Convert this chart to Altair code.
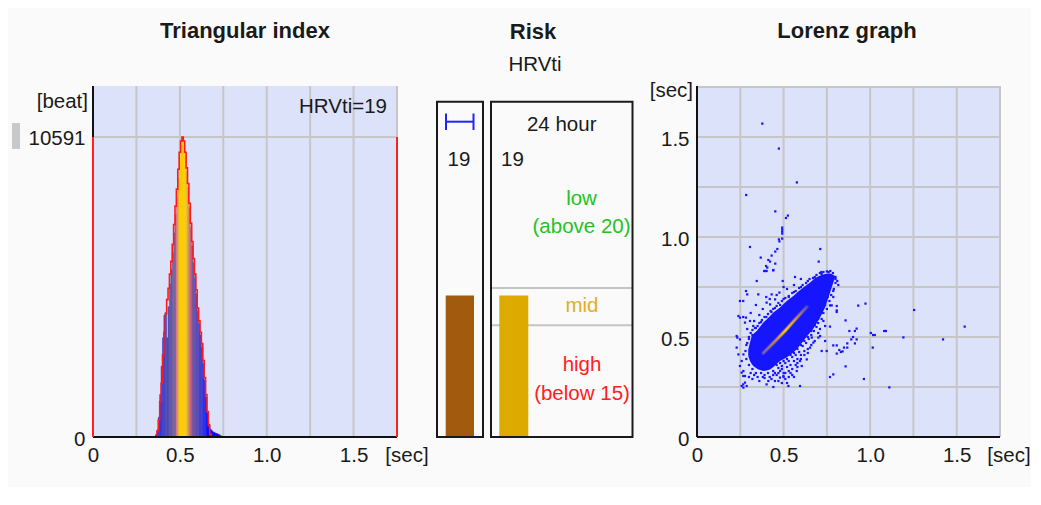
import altair as alt
import pandas as pd

FONT = "Liberation Sans, Arial, sans-serif"
TXT = "#1a1a1a"
LAV = "#dde2fb"
GRID = "#c6c6c6"
BLUE = "#1515ff"
FS = 20.5      # body text
FT = 22        # titles

# ---------------- data ----------------
HRVTI = 19            # triangular index (current period and 24 hour)
RISK_CURRENT = 19
RISK_24H = 19
THRESH_LOW = 20       # low risk above
THRESH_HIGH = 15      # high risk below

# histogram of RR intervals (bin starts every 8 ms)
HIST_BIN = 0.008
HIST_START = 0.360
HIST_COUNTS = [80, 250, 700, 1500, 2500, 3500, 4300, 4400, 3500, 4600, 5400, 5900,
               6500, 7200, 7850, 8450, 9150, 9800, 10300, 10591, 10350, 9900, 9350, 8800,
               8100, 7400, 6750, 6150, 5600, 5050, 4450, 4000, 3600, 3150, 2600, 2000,
               1400, 850, 450, 280, 220, 180, 150, 130, 110, 90, 60, 30]
# red outline histogram
RED_START = 0.368
RED_COUNTS = [200, 600, 1250, 1900, 2900, 3700, 4350, 4850, 5250, 5750, 6200, 6800,
              7500, 8150, 8750, 9450, 10050, 10450, 10591, 10450, 10050, 9500, 8950, 8250,
              7550, 6900, 6300, 5750, 5200, 4550, 4100, 3700, 3300, 2700, 2100, 1500,
              900, 400, 100]

TICKS = [0, 0.5, 1.0, 1.5]
GRID_STEPS = [0.25, 0.5, 0.75, 1.0, 1.25, 1.5, 1.75]

# Lorenz (Poincare) plot: dense core band (x, lower y, upper y)
CORE_X = [0.296, 0.306, 0.316, 0.325, 0.345, 0.354, 0.374, 0.383, 0.402, 0.422, 0.441,
          0.479, 0.518, 0.556, 0.566, 0.585, 0.614, 0.653, 0.663, 0.682, 0.711, 0.740,
          0.759, 0.768, 0.778, 0.797]
CORE_LO = [0.405, 0.380, 0.365, 0.355, 0.342, 0.338, 0.332, 0.330, 0.332, 0.338, 0.350,
           0.380, 0.397, 0.422, 0.430, 0.447, 0.480, 0.522, 0.530, 0.555, 0.597, 0.647,
           0.697, 0.720, 0.747, 0.797]
CORE_HI = [0.438, 0.472, 0.505, 0.515, 0.530, 0.540, 0.563, 0.572, 0.588, 0.605, 0.622,
           0.647, 0.680, 0.705, 0.713, 0.728, 0.747, 0.772, 0.780, 0.795, 0.808, 0.815,
           0.818, 0.818, 0.815, 0.805]
# dense centre streak
STREAK = [(0.383, 0.420), (0.450, 0.478), (0.508, 0.530), (0.570, 0.590), (0.634, 0.650)]
# individual beats
LORENZ_POINTS = [
    (0.377, 1.567), (0.473, 1.442), (0.577, 1.273), (0.284, 1.210), (0.452, 1.128), (0.514, 1.095),
    (0.525, 1.107), (0.492, 1.047), (0.492, 1.037), (0.492, 1.027), (0.492, 1.017), (0.473, 0.988),
    (0.476, 0.978), (0.492, 0.992), (0.306, 0.950), (0.712, 0.940), (0.703, 0.877), (0.368, 0.897),
    (0.431, 0.907), (0.452, 0.927), (0.464, 0.940), (0.452, 0.867), (0.412, 0.885), (0.422, 0.877),
    (0.399, 0.855), (0.406, 0.847), (0.441, 0.835), (0.388, 0.830), (0.395, 0.830), (0.402, 0.830),
    (0.440, 0.833), (0.345, 0.780), (0.495, 0.780), (0.566, 0.800), (0.718, 0.825), (0.816, 0.760),
    (0.787, 0.730), (0.787, 0.700), (0.807, 0.655), (0.807, 0.633), (0.807, 0.625), (0.768, 0.658),
    (0.778, 0.658), (0.931, 0.657), (0.973, 0.667), (1.254, 0.635), (1.546, 0.552), (0.858, 0.583),
    (0.768, 0.552), (0.880, 0.530), (0.912, 0.530), (0.922, 0.542), (1.004, 0.520), (1.017, 0.510),
    (1.027, 0.510), (1.081, 0.530), (1.091, 0.530), (1.192, 0.498), (1.421, 0.488), (0.891, 0.488),
    (0.901, 0.500), (0.922, 0.488), (0.912, 0.468), (0.868, 0.468), (0.849, 0.447), (0.868, 0.447),
    (0.787, 0.458), (0.807, 0.458), (0.822, 0.435), (0.831, 0.425), (0.841, 0.428), (0.807, 0.417),
    (1.015, 0.447), (0.858, 0.353), (0.768, 0.300), (0.964, 0.290), (1.111, 0.248), (0.787, 0.313),
    (0.283, 0.730), (0.290, 0.713), (0.248, 0.680), (0.267, 0.680), (0.239, 0.605), (0.248, 0.597),
    (0.267, 0.600), (0.283, 0.597), (0.229, 0.505), (0.233, 0.497), (0.229, 0.447), (0.239, 0.413),
    (0.248, 0.355), (0.258, 0.322), (0.267, 0.305), (0.258, 0.255), (0.267, 0.263), (0.277, 0.272),
    (0.402, 0.263), (0.441, 0.250), (0.528, 0.255), (0.595, 0.255), (0.354, 0.713), (0.402, 0.672),
    (0.422, 0.663), (0.431, 0.713), (0.476, 0.722), (0.451, 0.688), (0.306, 0.580), (0.325, 0.555),
    (0.277, 0.572), (0.248, 0.488), (0.268, 0.413), (0.258, 0.380), (0.268, 0.330), (0.277, 0.305),
    (0.287, 0.255), (0.268, 0.247), (0.412, 0.280), (0.479, 0.297), (0.499, 0.305), (0.576, 0.330),
    (0.605, 0.355), (0.595, 0.380), (0.634, 0.388), (0.653, 0.447), (0.672, 0.472), (0.663, 0.497),
    (0.701, 0.497), (0.711, 0.505), (0.740, 0.480), (0.749, 0.430), (0.740, 0.555), (0.730, 0.580),
    (0.720, 0.430),
    (0.300, 0.300), (0.310, 0.320), (0.320, 0.290), (0.330, 0.310), (0.350, 0.300), (0.360, 0.280),
    (0.380, 0.300), (0.370, 0.320), (0.390, 0.310), (0.420, 0.300), (0.430, 0.290), (0.440, 0.310),
    (0.450, 0.320), (0.460, 0.310), (0.470, 0.280), (0.480, 0.330), (0.500, 0.300), (0.510, 0.320),
    (0.520, 0.270), (0.530, 0.300), (0.540, 0.320), (0.550, 0.340), (0.560, 0.300), (0.570, 0.360),
    (0.580, 0.390), (0.600, 0.410), (0.620, 0.430), (0.440, 0.330), (0.470, 0.345), (0.490, 0.355),
    (0.510, 0.370), (0.530, 0.380), (0.550, 0.400), (0.570, 0.410), (0.590, 0.425), (0.610, 0.455),
    (0.630, 0.470), (0.645, 0.490), (0.660, 0.510), (0.675, 0.530), (0.690, 0.550), (0.700, 0.570),
    (0.720, 0.590), (0.730, 0.620), (0.750, 0.640), (0.765, 0.680), (0.775, 0.710), (0.790, 0.740),
    (0.800, 0.770), (0.800, 0.800),
    (0.290, 0.470), (0.300, 0.500), (0.310, 0.520), (0.320, 0.535), (0.335, 0.545), (0.350, 0.555),
    (0.360, 0.570), (0.375, 0.585), (0.390, 0.600), (0.410, 0.615), (0.425, 0.630), (0.440, 0.640),
    (0.460, 0.655), (0.470, 0.670), (0.490, 0.680), (0.510, 0.695), (0.530, 0.705), (0.550, 0.720),
    (0.570, 0.730), (0.590, 0.745), (0.610, 0.760), (0.630, 0.770), (0.650, 0.790), (0.670, 0.795),
    (0.690, 0.810), (0.710, 0.820), (0.730, 0.825), (0.750, 0.828), (0.770, 0.830), (0.360, 0.610),
    (0.330, 0.580), (0.380, 0.640), (0.420, 0.690), (0.460, 0.710), (0.520, 0.740), (0.560, 0.760),
    (0.600, 0.790), (0.290, 0.540), (0.310, 0.620), (0.340, 0.660), (0.400, 0.700), (0.500, 0.750),
    (0.460, 0.360), (0.480, 0.370), (0.500, 0.380), (0.520, 0.390), (0.540, 0.410), (0.560, 0.420),
    (0.580, 0.440), (0.600, 0.460), (0.620, 0.480), (0.640, 0.500), (0.660, 0.530), (0.680, 0.560),
    (0.700, 0.590), (0.720, 0.620), (0.740, 0.660), (0.755, 0.700), (0.470, 0.320), (0.490, 0.340),
    (0.520, 0.350), (0.540, 0.360), (0.560, 0.380), (0.580, 0.370), (0.600, 0.390), (0.620, 0.410),
    (0.640, 0.440), (0.660, 0.460), (0.680, 0.480), (0.700, 0.520), (0.710, 0.540), (0.640, 0.420),
    (0.580, 0.350), (0.530, 0.330), (0.500, 0.320), (0.550, 0.310), (0.490, 0.270), (0.510, 0.290),
    (0.450, 0.280), (0.410, 0.320), (0.390, 0.295), (0.340, 0.320), (0.320, 0.340), (0.300, 0.360),
    (0.285, 0.390), (0.280, 0.430), (0.285, 0.460),
    (0.300, 0.490), (0.320, 0.510), (0.340, 0.545), (0.370, 0.575), (0.400, 0.600), (0.430, 0.625),
    (0.450, 0.645), (0.480, 0.660), (0.500, 0.690), (0.530, 0.700), (0.560, 0.725), (0.600, 0.750),
    (0.640, 0.780), (0.680, 0.800), (0.720, 0.815), (0.760, 0.825), (0.785, 0.820), (0.800, 0.790),
    (0.810, 0.780),
]

# ---------------- layout ----------------
W1, W2, W3, H = 304, 220, 303, 351
ONE = alt.Data(values=[{}])


def txt(s, x, y, size=FS, color=TXT, bold=False, align="center"):
    return alt.Chart(ONE).mark_text(
        text=s, font=FONT, fontSize=size, fontWeight="bold" if bold else "normal",
        color=color, align=align, baseline="middle"
    ).encode(x=alt.value(x), y=alt.value(y))


def box(x0, x1, y0, y1, color):
    return alt.Chart(ONE).mark_rect(color=color).encode(
        x=alt.value(x0), x2=alt.value(x1), y=alt.value(y0), y2=alt.value(y1))


def hrule(x0, x1, y, color, w=2):
    return alt.Chart(ONE).mark_rule(color=color, strokeWidth=w).encode(
        x=alt.value(x0), x2=alt.value(x1), y=alt.value(y))


def vrule(x, y0, y1, color, w=2):
    return alt.Chart(ONE).mark_rule(color=color, strokeWidth=w).encode(
        x=alt.value(x), y=alt.value(y0), y2=alt.value(y1))


label_expr = "datum.value == 0 ? '0' : format(datum.value, '.1f')"
common_axis = dict(labelFont=FONT, labelFontSize=FS, labelColor=TXT, domain=False,
                   ticks=False, tickSize=0, grid=False, title=None, labelFlush=False)
ax_x = alt.Axis(values=TICKS, labelExpr=label_expr, labelPadding=18,
                labelBaseline="middle", **common_axis)

# ---------------- panel 1: triangular index ----------------
peak = max(HIST_COUNTS)
xs1 = alt.Scale(domain=[0, 1.75], nice=False, zero=False)
ys1 = alt.Scale(domain=[0, 12391], nice=False)
ax_y1 = alt.Axis(values=[0, peak], format="d", labelPadding=8, labelOffset=2, **common_axis)

hist = pd.DataFrame({"count": HIST_COUNTS})
hist["start"] = [round(HIST_START + i * HIST_BIN, 3) for i in range(len(HIST_COUNTS))]
hist["end"] = hist["start"] + HIST_BIN
hist["mid"] = hist["start"] + HIST_BIN / 2

red_rows = [{"i": 0, "x": RED_START, "c": 0}]
for i, c in enumerate(RED_COUNTS):
    red_rows.append({"i": i + 1, "x": round(RED_START + i * HIST_BIN, 3), "c": c})
red_rows.append({"i": len(RED_COUNTS) + 1,
                 "x": round(RED_START + len(RED_COUNTS) * HIST_BIN, 3), "c": 0})
red = pd.DataFrame(red_rows)

X1 = lambda f: alt.X(f, type="quantitative", scale=xs1, axis=ax_x)
Y1 = lambda f: alt.Y(f, type="quantitative", scale=ys1, axis=ax_y1)

hist_scale = alt.Scale(
    domain=[0.36, 0.40, 0.44, 0.475, 0.49, 0.50, 0.535, 0.55, 0.575, 0.62, 0.66],
    range=["#1a1aff", "#3c3cd0", "#5550a8", "#7a6898", "#d0a840", "#ffcc00", "#ffcc00",
           "#c8a050", "#6a58a0", "#4040c8", "#1010ff"])

grid1 = alt.Chart(pd.DataFrame({"g": GRID_STEPS})).mark_rule(color=GRID, strokeWidth=2).encode(
    x=X1("g"), y=alt.value(0), y2=alt.value(H))
hgrid1 = alt.Chart(pd.DataFrame({"v": [peak]})).mark_rule(color=GRID, strokeWidth=2).encode(
    y=Y1("v"), x=alt.value(0), x2=alt.value(W1))
bars1 = alt.Chart(hist).mark_rect(strokeWidth=0.6).encode(
    x=X1("start"), x2="end", y=Y1("count"), y2=alt.datum(0),
    color=alt.Color("mid:Q", legend=None, scale=hist_scale),
    stroke=alt.Stroke("mid:Q", legend=None, scale=hist_scale))
red_line = alt.Chart(red).mark_line(color="#ff1a1a", strokeWidth=1.6, interpolate="step-after").encode(
    x=X1("x"), y=Y1("c"), order="i:Q")
red_edges = alt.Chart(pd.DataFrame({"x": [0, 1.75], "lo": [0, 0], "hi": [peak, peak]})).mark_rule(
    color="#ff2020", strokeWidth=2).encode(x=X1("x"), y=Y1("lo"), y2="hi")

panel1 = alt.layer(
    box(0, W1, 0, H, LAV),
    box(-81, -73, 37, 63, "#c8c8c8"),
    grid1, hgrid1, bars1, red_line,
    vrule(0, 0, H, "#111"), hrule(0, W1, H, "#111"),
    red_edges,
    txt("Triangular index", 152, -55, size=FT, bold=True),
    txt("[beat]", -5, 16, align="right"),
    txt(f"HRVti={HRVTI}", 294, 21, align="right"),
    txt("[sec]", 314, 370),
).properties(width=W1, height=H)

# ---------------- panel 2: risk ----------------
xs2 = alt.Scale(domain=[0, W2], nice=False, zero=False)
ys2 = alt.Scale(domain=[0, 47.1], nice=False)
X2 = lambda f: alt.X(f, type="quantitative", scale=xs2, axis=None)
Y2 = lambda f: alt.Y(f, type="quantitative", scale=ys2, axis=None)

frames = pd.DataFrame({"x0": [0, 54], "x1": [46, 195.5], "y0": [0, 0], "y1": [45, 45]})
frames2 = alt.Chart(frames).mark_rect(fillOpacity=0, stroke="#1a1a1a", strokeWidth=2).encode(
    x=X2("x0"), x2="x1", y=Y2("y0"), y2="y1")
levels = alt.Chart(pd.DataFrame({"v": [THRESH_LOW, THRESH_HIGH], "x0": [54, 54], "x1": [195.5, 195.5]})).mark_rule(
    color="#c4c4c4", strokeWidth=2).encode(x=X2("x0"), x2="x1", y=Y2("v"))
risk = pd.DataFrame({"v": [RISK_CURRENT, RISK_24H], "lo": [0, 0],
                     "x0": [8.7, 62.3], "x1": [37, 91.3],
                     "c": ["#a25a0e", "#ddaa00"]})
bars2 = alt.Chart(risk).mark_rect().encode(
    x=X2("x0"), x2="x1", y=Y2("lo"), y2="v", color=alt.Color("c:N", scale=None))

panel2 = alt.layer(
    levels, bars2, frames2,
    hrule(8.5, 37, 35.7, "#2222ff"), vrule(9, 27.5, 44, "#2222ff"), vrule(36.5, 27.5, 44, "#2222ff"),
    txt("Risk", 96, -54, size=FT, bold=True),
    txt("HRVti", 98, -21),
    txt(str(RISK_CURRENT), 22, 73.7),
    txt("24 hour", 124.7, 39),
    txt(str(RISK_24H), 75.5, 73.7),
    txt("low", 144.5, 113, color="#22c422"),
    txt(f"(above {THRESH_LOW})", 144.5, 141, color="#22c422"),
    txt("mid", 145, 220, color="#e0b020"),
    txt("high", 145, 279, color="#ff2020"),
    txt(f"(below {THRESH_HIGH})", 145, 308, color="#ff2020"),
).properties(width=W2, height=H)

# ---------------- panel 3: Lorenz graph ----------------
xs3 = alt.Scale(domain=[0, 1.75], nice=False, zero=False)
ys3 = alt.Scale(domain=[0, 1.755], nice=False, zero=False)
ax_y3 = alt.Axis(values=TICKS, labelExpr=label_expr, labelPadding=8, labelOffset=2, **common_axis)
X3 = lambda f: alt.X(f, type="quantitative", scale=xs3, axis=ax_x)
Y3 = lambda f: alt.Y(f, type="quantitative", scale=ys3, axis=ax_y3)

gv = alt.Chart(pd.DataFrame({"g": GRID_STEPS})).mark_rule(color=GRID, strokeWidth=2).encode(
    x=X3("g"), y=alt.value(0), y2=alt.value(H))
gh = alt.Chart(pd.DataFrame({"g": GRID_STEPS})).mark_rule(color=GRID, strokeWidth=2).encode(
    y=Y3("g"), x=alt.value(0), x2=alt.value(W3))
core = alt.Chart(pd.DataFrame({"x": CORE_X, "lo": CORE_LO, "hi": CORE_HI})).mark_area(
    color=BLUE, opacity=1).encode(x=X3("x"), y=Y3("lo"), y2="hi")
pts = alt.Chart(pd.DataFrame(LORENZ_POINTS, columns=["x", "y"])).mark_square(
    size=5, color=BLUE, opacity=1).encode(x=X3("x"), y=Y3("y"))
streak_df = pd.DataFrame(STREAK, columns=["x", "y"])
halo = alt.Chart(streak_df).mark_line(
    strokeWidth=4, strokeCap="round", opacity=0.7,
    color=alt.Gradient(gradient="linear", x1=0, x2=1, y1=1, y2=0, stops=[
        alt.GradientStop(offset=0, color="#4a40d0"),
        alt.GradientStop(offset=0.5, color="#b08060"),
        alt.GradientStop(offset=1, color="#4a40d0")])).encode(x=X3("x"), y=Y3("y"))
streak = alt.Chart(streak_df).mark_line(
    strokeWidth=2, strokeCap="round", opacity=1,
    color=alt.Gradient(gradient="linear", x1=0, x2=1, y1=1, y2=0, stops=[
        alt.GradientStop(offset=0, color="#7a60b0"),
        alt.GradientStop(offset=0.3, color="#c89040"),
        alt.GradientStop(offset=0.5, color="#ffd000"),
        alt.GradientStop(offset=0.75, color="#d09040"),
        alt.GradientStop(offset=1, color="#5a50c0")])).encode(x=X3("x"), y=Y3("y"))

panel3 = alt.layer(
    box(0, W3, 0, H, LAV),
    gv, gh, core, pts, halo, streak,
    vrule(0, 0, H, "#111"), hrule(0, W3, H, "#111"),
    txt("Lorenz graph", 150, -55, size=FT, bold=True),
    txt("[sec]", -4, 5, align="right"),
    txt("[sec]", 312, 370),
).properties(width=W3, height=H)

chart = alt.hconcat(panel1, panel2, panel3, spacing=40, bounds="flush").resolve_scale(
    color="independent", stroke="independent"
).configure_view(stroke=None).properties(
    background="#fafafa",
    padding={"left": 4, "top": 12, "right": 0, "bottom": 20},
)

chart.save("out.html", embed_options={"renderer": "svg", "actions": False})
